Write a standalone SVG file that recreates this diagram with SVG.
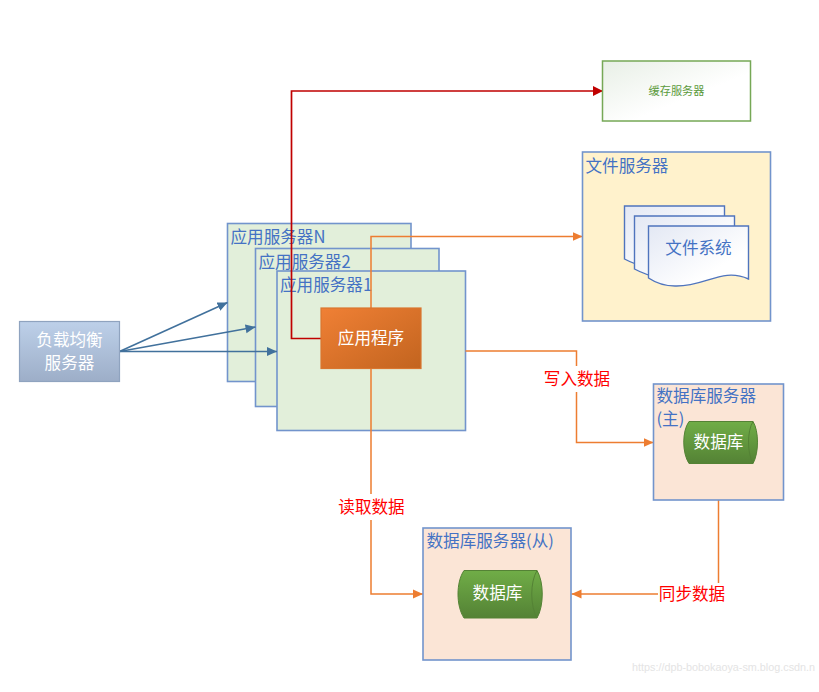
<svg xmlns="http://www.w3.org/2000/svg" width="819" height="692" viewBox="0 0 819 692">
<style>
text{font-family:"Noto Sans CJK SC","Liberation Sans",sans-serif}
text.wm{font-family:"Liberation Sans",sans-serif;font-size:10.800px;fill:#e4e4e4}
.box{stroke:#7294cc;stroke-width:1.6}
.app{fill:#e2efda}
.db{fill:#fbe5d6}
.t{font-size:16.600px;fill:#4472c4}
.w{font-size:16.600px;fill:#fff;text-anchor:middle}
.r{font-size:16.600px;fill:#f00;text-anchor:middle}
.doc{fill:url(#gd);stroke:#4f74bd;stroke-width:1.4}
.cyl{fill:url(#gg);stroke:#548235;stroke-width:1}
.cl{fill:none;stroke:#548235;stroke-width:1}
.bl{fill:none;stroke:#41719c;stroke-width:1.600;marker-end:url(#ab)}
.or{fill:none;stroke:#ed7d31;stroke-width:1.500;marker-end:url(#ao)}
.ol{fill:none;stroke:#ed7d31;stroke-width:1.500}
.rd{fill:none;stroke:#c00000;stroke-width:1.700;marker-end:url(#ar)}
</style>
<defs>
<marker id="ab" markerUnits="userSpaceOnUse" markerWidth="11" markerHeight="10" refX="10" refY="5" orient="auto"><path d="M0 0.500L10 5L0 9.500Z" fill="#41719c"/></marker>
<marker id="ao" markerUnits="userSpaceOnUse" markerWidth="11" markerHeight="10" refX="10" refY="5" orient="auto"><path d="M0 0.500L10 5L0 9.500Z" fill="#ed7d31"/></marker>
<marker id="ar" markerUnits="userSpaceOnUse" markerWidth="11" markerHeight="10" refX="10" refY="5" orient="auto"><path d="M0 0L10 5L0 10Z" fill="#c00000"/></marker>
<linearGradient id="gl" x1="0" y1="0" x2="0" y2="1"><stop offset="0" stop-color="#bdd0e9"/><stop offset="1" stop-color="#9daec8"/></linearGradient>
<linearGradient id="go" x1="0" y1="0" x2="1" y2="1"><stop offset="0" stop-color="#f08035"/><stop offset="1" stop-color="#c2641f"/></linearGradient>
<linearGradient id="gc" x1="0" y1="0" x2="1" y2="1"><stop offset="0" stop-color="#e8efe6"/><stop offset="0.6" stop-color="#ffffff"/></linearGradient>
<linearGradient id="gd" x1="0" y1="0" x2="1" y2="1"><stop offset="0" stop-color="#e3e8f4"/><stop offset="0.7" stop-color="#ffffff"/></linearGradient>
<linearGradient id="gg" x1="0" y1="0" x2="0" y2="1"><stop offset="0" stop-color="#70ad47"/><stop offset="1" stop-color="#548235"/></linearGradient>
</defs>
<rect width="819" height="692" fill="#fff"/>
<g id="app-n"><rect class="box app" x="227.500" y="223.500" width="183.500" height="158"/><text class="t" x="230.500" y="243">应用服务器N</text></g>
<g id="app-2"><rect class="box app" x="255.500" y="248.500" width="183.500" height="158"/><text class="t" x="258.500" y="267.500">应用服务器2</text></g>
<g id="app-1"><rect class="box app" x="277" y="271" width="188.500" height="159.500"/><text class="t" x="280" y="290.500">应用服务器1</text></g>
<g id="connectors">
<path class="bl" d="M119.500 351.500L227.500 302.500"/>
<path class="bl" d="M119.500 351.500L255.500 327"/>
<path class="bl" d="M119.500 351.500L277 351.500"/>
<path class="rd" d="M321 338.500H291.500V91H603"/>
<path class="or" d="M371 308V236.500H582.500"/>
<path class="or" d="M465.500 351H576.500V442.500H653.500"/>
<path class="or" d="M371 368.500V594H423"/>
<path class="ol" d="M718.500 500V583"/>
<path class="or" d="M658 594H571.500"/>
</g>
<g id="load-balancer"><rect x="19.500" y="321.500" width="100" height="60" fill="url(#gl)" stroke="#8fa3bf" stroke-width="1.200"/><text class="w" x="69.500" y="346">负载均衡</text><text class="w" x="69.500" y="369">服务器</text></g>
<g id="app-program"><rect x="321" y="308" width="100" height="60.500" fill="url(#go)" stroke="#d9762f" stroke-width="1.200"/><text class="w" x="371" y="344">应用程序</text></g>
<g id="cache"><rect x="602.500" y="61" width="148" height="60" fill="url(#gc)" stroke="#76a856" stroke-width="1.500"/><text x="676.500" y="95" font-size="11.200" fill="#5b9a3c" text-anchor="middle">缓存服务器</text></g>
<g id="file-server"><rect class="box" x="582.500" y="152" width="188" height="169" fill="#fff2cc"/><text class="t" x="585.500" y="172">文件服务器</text>
<path class="doc" d="M624.500 206H724.500V262C700 255 685 275 650 268C640 266 632 263 624.500 259Z"/>
<path class="doc" d="M634.500 216H734.500V272C710 265 695 285 660 278C650 276 642 273 634.500 269Z"/>
<path class="doc" d="M648.500 226H748.500V279C722 267 705 287 675 286C665 286 656 283 648.500 278Z"/>
<text class="t" x="698.500" y="254" text-anchor="middle">文件系统</text></g>
<g id="db-master"><rect class="box db" x="653.500" y="384" width="130" height="116"/><text class="t" x="656.500" y="402">数据库服务器</text><text class="t" x="656.500" y="425">(主)</text>
<path class="cyl" d="M689 421.500H753C759 431 759 453 753 463.500H689C682 453 682 431 689 421.500Z"/><path class="cl" d="M753 421.500C747 431 747 453 753 463.500"/><text class="w" x="718.500" y="448">数据库</text></g>
<g id="db-slave"><rect class="box db" x="423" y="528" width="148" height="132"/><text class="t" x="426.500" y="547">数据库服务器(从)</text>
<path class="cyl" d="M464 570.500H537C544 582 544 606 537 618H464C456 606 456 582 464 570.500Z"/><path class="cl" d="M537 570.500C530 582 530 606 537 618"/><text class="w" x="497.500" y="599">数据库</text></g>
<g id="labels">
<rect x="530" y="366" width="92" height="26" fill="#fff"/><text class="r" x="577" y="385">写入数据</text>
<rect x="335" y="494" width="72" height="26" fill="#fff"/><text class="r" x="371.500" y="513">读取数据</text>
<rect x="658" y="583" width="68" height="24" fill="#fff"/><text class="r" x="692" y="600">同步数据</text>
</g>
<text class="wm" x="632" y="671">https://dpb-bobokaoya-sm.blog.csdn.n</text>
</svg>
